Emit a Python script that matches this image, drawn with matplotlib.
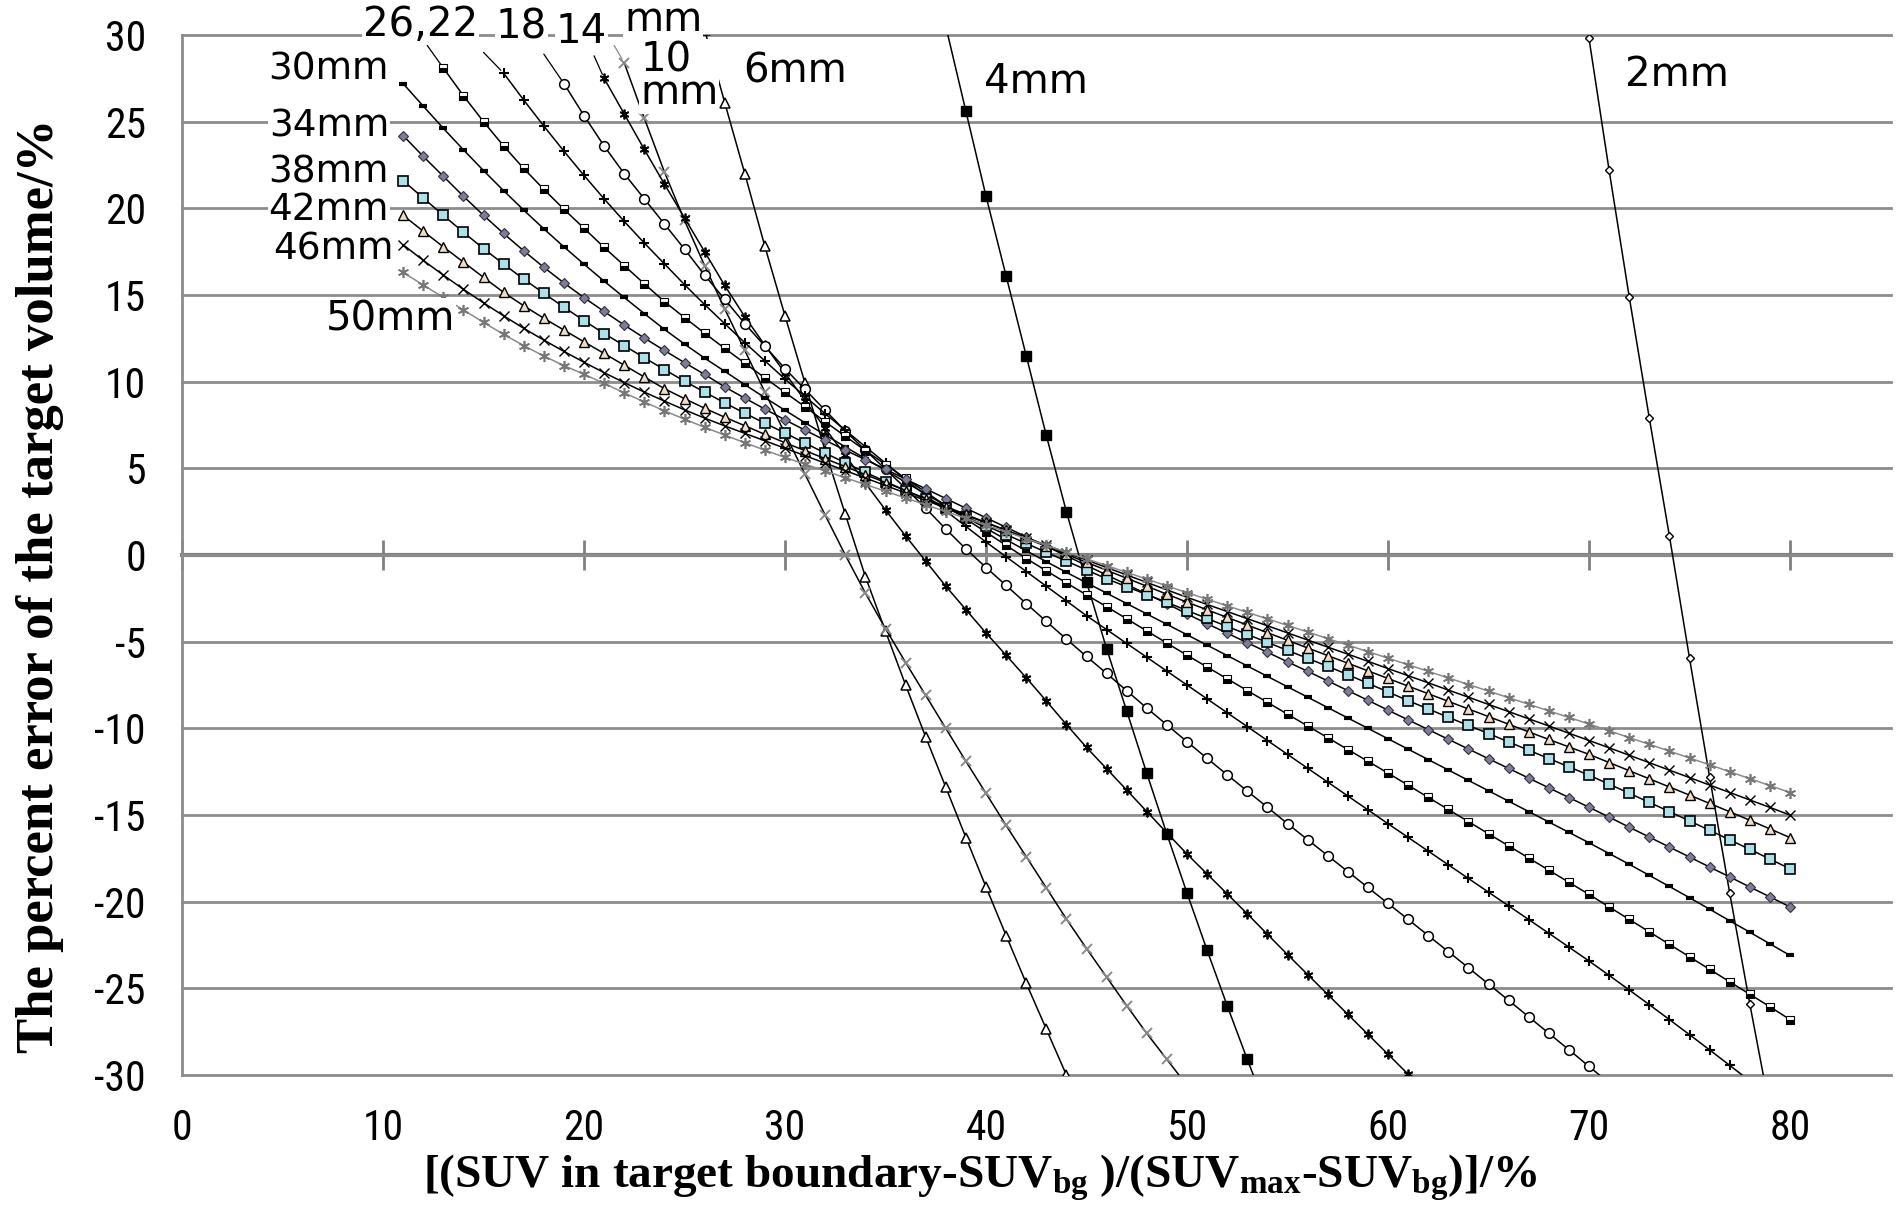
import numpy as np
import matplotlib
matplotlib.use("Agg")
import matplotlib.pyplot as plt
from matplotlib import font_manager

# percent error of the target volume, one value per integer threshold (%)
start_2mm = 70
err_2mm = [29.8, 22.2, 14.9, 7.9, 1.1, -5.95, -12.8, -19.5, -25.9, -32.0]

start_4mm = 38
err_4mm = [30.5, 25.6, 20.7, 16.1, 11.5, 6.9, 2.5, -1.55, -5.4, -9.0, -12.6, -16.1,
           -19.5, -22.8, -26.0, -29.1, -32.1]

start_6mm = 26
err_6mm = [30.3, 26.1, 22.0, 17.8, 13.8, 9.9, 6.0, 2.35, -1.25, -4.4, -7.5, -10.5,
           -13.4, -16.3, -19.15, -21.95, -24.7, -27.35, -30.0]

start_10mm = 22
err_10mm = [28.4, 25.2, 22.1, 19.3, 16.7, 14.2, 11.8, 9.4, 7.0, 4.65, 2.3, 0.0, -2.2,
            -4.25, -6.2, -8.1, -10.0, -11.9, -13.75, -15.6, -17.4, -19.2, -21.0, -22.7,
            -24.35, -26.0, -27.6, -29.1, -30.6]

start_14mm = 21
err_14mm = [27.5, 25.45, 23.4, 21.4, 19.45, 17.5, 15.55, 13.75, 12.1, 10.5, 8.9, 7.3,
            5.75, 4.15, 2.6, 1.1, -0.35, -1.8, -3.15, -4.5, -5.78, -7.08, -8.42, -9.78,
            -11.1, -12.33, -13.56, -14.8, -16.03, -17.25, -18.4, -19.55, -20.7, -21.88,
            -23.05, -24.2, -25.35, -26.5, -27.65, -28.8, -29.95, -31.1]

start_18mm = 19
err_18mm = [27.2, 25.35, 23.6, 22.0, 20.55, 19.1, 17.65, 16.15, 14.75, 13.35, 12.05,
            10.75, 9.55, 8.35, 7.15, 6.05, 4.95, 3.85, 2.7, 1.5, 0.35, -0.72, -1.75, -2.8,
            -3.83, -4.85, -5.85, -6.83, -7.83, -8.83, -9.8, -10.77, -11.73, -12.68, -13.62,
            -14.55, -15.5, -16.42, -17.34, -18.26, -19.18, -20.1, -21.02, -21.95, -22.88,
            -23.81, -24.75, -25.69, -26.64, -27.59, -28.54, -29.5, -30.46]

start_22mm = 16
err_22mm = [27.8, 26.25, 24.75, 23.3, 21.9, 20.55, 19.25, 18.0, 16.8, 15.6, 14.45, 13.35,
            12.25, 11.2, 10.15, 9.15, 8.15, 7.2, 6.25, 5.3, 4.35, 3.45, 2.55, 1.65, 0.75,
            -0.1, -0.95, -1.8, -2.65, -3.5, -4.3, -5.1, -5.9, -6.7, -7.5, -8.3, -9.1, -9.9,
            -10.7, -11.5, -12.3, -13.1, -13.9, -14.7, -15.5, -16.29, -17.08, -17.87,
            -18.66, -19.45, -20.24, -21.03, -21.82, -22.62, -23.42, -24.25, -25.09,
            -25.94, -26.8, -27.67, -28.55, -29.44, -30.34]

start_26mm = 13
err_26mm = [28.1, 26.5, 25.0, 23.6, 22.3, 21.1, 19.95, 18.85, 17.75, 16.7, 15.65, 14.62,
            13.7, 12.8, 11.92, 11.07, 10.22, 9.38, 8.55, 7.69, 6.85, 6.03, 5.22, 4.42,
            3.63, 2.85, 2.08, 1.32, 0.56, -0.2, -0.91, -1.61, -2.3, -2.98, -3.68, -4.38,
            -5.08, -5.78, -6.46, -7.14, -7.82, -8.5, -9.18, -9.86, -10.54, -11.22, -11.9,
            -12.58, -13.28, -13.98, -14.68, -15.38, -16.08, -16.78, -17.48, -18.18,
            -18.88, -19.58, -20.3, -21.02, -21.74, -22.46, -23.18, -23.9, -24.62, -25.34,
            -26.06, -26.8]

start_30mm = 11
err_30mm = [27.2, 25.9, 24.62, 23.38, 22.18, 21.02, 19.9, 18.82, 17.78, 16.78, 15.8,
            14.86, 13.93, 13.02, 12.17, 11.36, 10.6, 9.83, 9.08, 8.35, 7.63, 6.93, 6.24,
            5.56, 4.89, 4.2, 3.52, 2.85, 2.19, 1.54, 0.89, 0.25, -0.38, -1.0, -1.6, -2.2,
            -2.8, -3.4, -4.0, -4.6, -5.2, -5.8, -6.4, -7.0, -7.6, -8.2, -8.8, -9.4, -10.0,
            -10.6, -11.2, -11.8, -12.4, -13.0, -13.6, -14.2, -14.8, -15.4, -16.0, -16.6,
            -17.22, -17.84, -18.48, -19.12, -19.77, -20.43, -21.1, -21.76, -22.43, -23.1]

start_34mm = 11
err_34mm = [24.2, 23.0, 21.85, 20.7, 19.6, 18.55, 17.55, 16.6, 15.7, 14.85, 14.05, 13.27,
            12.52, 11.8, 11.1, 10.42, 9.7, 9.05, 8.42, 7.8, 7.2, 6.62, 6.05, 5.5, 4.95,
            4.38, 3.82, 3.26, 2.7, 2.15, 1.6, 1.05, 0.5, -0.05, -0.6, -1.15, -1.7, -2.25,
            -2.8, -3.4, -3.96, -4.51, -5.06, -5.61, -6.16, -6.71, -7.26, -7.82, -8.38,
            -8.95, -9.51, -10.07, -10.63, -11.19, -11.75, -12.31, -12.87, -13.43, -13.99,
            -14.55, -15.12, -15.7, -16.27, -16.85, -17.42, -18.0, -18.57, -19.15, -19.72,
            -20.3]

start_38mm = 11
err_38mm = [21.6, 20.6, 19.6, 18.62, 17.68, 16.78, 15.92, 15.1, 14.3, 13.52, 12.78,
            12.08, 11.38, 10.7, 10.03, 9.4, 8.78, 8.18, 7.6, 7.04, 6.46, 5.88, 5.32, 4.77,
            4.24, 3.72, 3.22, 2.71, 2.2, 1.69, 1.18, 0.67, 0.16, -0.35, -0.86, -1.37,
            -1.83, -2.28, -2.73, -3.2, -3.66, -4.12, -4.58, -5.04, -5.5, -5.96, -6.42,
            -6.9, -7.4, -7.9, -8.4, -8.88, -9.36, -9.83, -10.3, -10.78, -11.26, -11.74,
            -12.22, -12.7, -13.22, -13.74, -14.27, -14.8, -15.34, -15.88, -16.43, -16.98,
            -17.54, -18.1]

start_42mm = 11
err_42mm = [19.6, 18.68, 17.78, 16.9, 16.02, 15.15, 14.38, 13.66, 12.98, 12.3, 11.63,
            10.95, 10.27, 9.6, 9.02, 8.47, 7.95, 7.46, 6.96, 6.48, 6.02, 5.56, 5.1, 4.64,
            4.18, 3.72, 3.26, 2.8, 2.34, 1.88, 1.42, 0.96, 0.5, 0.04, -0.42, -0.88, -1.34,
            -1.8, -2.26, -2.72, -3.16, -3.6, -4.04, -4.48, -4.92, -5.36, -5.8, -6.24,
            -6.68, -7.12, -7.56, -8.0, -8.44, -8.88, -9.32, -9.76, -10.2, -10.64, -11.07,
            -11.5, -11.97, -12.44, -12.91, -13.38, -13.85, -14.33, -14.81, -15.3, -15.8,
            -16.3]

start_46mm = 11
err_46mm = [17.9, 17.0, 16.15, 15.33, 14.55, 13.8, 13.08, 12.4, 11.75, 11.12, 10.52,
            9.95, 9.4, 8.88, 8.38, 7.9, 7.45, 7.02, 6.59, 6.16, 5.73, 5.3, 4.87, 4.44,
            4.01, 3.58, 3.15, 2.72, 2.29, 1.86, 1.43, 1.0, 0.57, 0.14, -0.29, -0.72,
            -1.15, -1.58, -2.01, -2.44, -2.85, -3.26, -3.67, -4.08, -4.49, -4.9, -5.31,
            -5.72, -6.13, -6.55, -6.96, -7.37, -7.79, -8.2, -8.62, -9.03, -9.45, -9.86,
            -10.28, -10.7, -11.12, -11.55, -11.98, -12.41, -12.84, -13.27, -13.7, -14.13,
            -14.56, -15.0]

start_50mm = 11
err_50mm = [16.3, 15.58, 14.86, 14.14, 13.42, 12.73, 12.08, 11.48, 10.93, 10.43, 9.9,
            9.36, 8.83, 8.32, 7.84, 7.37, 6.92, 6.48, 6.05, 5.63, 5.24, 4.85, 4.46, 4.07,
            3.68, 3.29, 2.9, 2.51, 2.12, 1.73, 1.34, 0.95, 0.56, 0.17, -0.22, -0.61, -1.0,
            -1.39, -1.78, -2.17, -2.55, -2.93, -3.31, -3.68, -4.06, -4.44, -4.82, -5.2,
            -5.57, -5.95, -6.33, -6.71, -7.09, -7.47, -7.85, -8.23, -8.61, -8.99, -9.37,
            -9.75, -10.14, -10.53, -10.92, -11.31, -11.71, -12.1, -12.5, -12.9, -13.3,
            -13.7]

series = {
    "2mm": (start_2mm, err_2mm),
    "4mm": (start_4mm, err_4mm),
    "6mm": (start_6mm, err_6mm),
    "10mm": (start_10mm, err_10mm),
    "14mm": (start_14mm, err_14mm),
    "18mm": (start_18mm, err_18mm),
    "22mm": (start_22mm, err_22mm),
    "26mm": (start_26mm, err_26mm),
    "30mm": (start_30mm, err_30mm),
    "34mm": (start_34mm, err_34mm),
    "38mm": (start_38mm, err_38mm),
    "42mm": (start_42mm, err_42mm),
    "46mm": (start_46mm, err_46mm),
    "50mm": (start_50mm, err_50mm),
}

# marker looks of the Excel series
asterisk = (6, 2, 0)
styles = {
    "2mm": dict(marker="D", ms=4.5, mfc="white", mec="black", mew=1.0),
    "4mm": dict(marker="s", ms=7, mfc="black", mec="black", mew=1.0),
    "6mm": dict(marker="^", ms=7, mfc="white", mec="black", mew=1.1),
    "10mm": dict(marker="x", ms=7, mfc="none", mec="#8a8a8a", mew=1.4),
    "14mm": dict(marker=asterisk, ms=7, mfc="none", mec="black", mew=1.3),
    "18mm": dict(marker="o", ms=7, mfc="white", mec="black", mew=1.1),
    "22mm": dict(marker="+", ms=7, mfc="none", mec="black", mew=1.5),
    "26mm": dict(marker="s", ms=5.5, mfc="black", mec="black", mew=0.8,
                 fillstyle="bottom", markerfacecoloralt="white"),
    "30mm": dict(marker="_", ms=6, mfc="black", mec="black", mew=3),
    "34mm": dict(marker="D", ms=5, mfc="#7c7c9c", mec="#333333", mew=0.8),
    "38mm": dict(marker="s", ms=7, mfc="#aee0ea", mec="black", mew=1.2),
    "42mm": dict(marker="^", ms=6.5, mfc="#f3dcc4", mec="black", mew=1.0),
    "46mm": dict(marker="x", ms=7, mfc="none", mec="black", mew=1.0),
    "50mm": dict(marker=asterisk, ms=8, mfc="none", mec="#777777", mew=1.2),
}
line_colors = {"50mm": "#8a8a8a"}

# a narrow sans for the tick numbers, if one is installed
names = {f.name for f in font_manager.fontManager.ttflist}
tick_font = "Liberation Sans"
for cand in ["Liberation Sans Narrow", "DejaVu Sans Condensed", "Noto Sans Condensed",
             "Roboto Condensed", "Open Sans Condensed"]:
    if cand in names:
        tick_font = cand
        break

plt.rcParams["axes.unicode_minus"] = False
plt.rcParams["mathtext.fontset"] = "custom"
plt.rcParams["mathtext.rm"] = "Liberation Serif:bold"
plt.rcParams["mathtext.it"] = "Liberation Serif:bold"
plt.rcParams["mathtext.bf"] = "Liberation Serif:bold"

fig = plt.figure(figsize=(19, 12.12), dpi=100)
ax = fig.add_axes([0.0958, 0.1130, 0.8992, 0.8581])

for name, (x0, vals) in series.items():
    xs = np.arange(x0, x0 + len(vals))
    ax.plot(xs, vals, color=line_colors.get(name, "black"), lw=1.1, zorder=3,
            **styles[name])

ax.set_xlim(0, 85)
ax.set_ylim(-30, 30)
ax.set_xticks(np.arange(0, 81, 10))
ax.set_yticks(np.arange(-30, 31, 5))
ax.yaxis.grid(True, color="#8c8c8c", lw=2)
ax.set_axisbelow(True)
for gl in ax.get_ygridlines():
    gl.set_clip_on(False)

for side in ["top", "right", "bottom"]:
    ax.spines[side].set_visible(False)
ax.spines["left"].set_color("#8c8c8c")
ax.spines["left"].set_linewidth(2)

ax.tick_params(axis="x", length=0, pad=24, labelsize=30)
ax.tick_params(axis="y", length=0, pad=26, labelsize=30)
for lab in ax.get_xticklabels() + ax.get_yticklabels():
    lab.set_family(tick_font)

# the x axis line itself runs through y = 0 with crossing ticks
xaxis0 = ax.secondary_xaxis(0.5)
xaxis0.set_xticks(np.arange(0, 81, 10))
xaxis0.tick_params(direction="inout", length=22, width=2, color="#808080",
                   labeltop=False, labelbottom=False)
for side in ["top", "bottom"]:
    xaxis0.spines[side].set_color("#808080")
    xaxis0.spines[side].set_linewidth(3)

ax.set_ylabel("The percent error of the target volume/%", family="Liberation Serif",
              fontweight="bold", fontsize=38)
ax.yaxis.set_label_coords(-0.083, 0.47)
ax.yaxis.label.set_va("center")
ax.set_xlabel(r"[(SUV in target boundary-SUV$_{\mathrm{bg}}$ )/(SUV$_{\mathrm{max}}$-SUV$_{\mathrm{bg}}$)]/%",
              family="Liberation Serif", fontweight="bold", fontsize=34)
ax.xaxis.set_label_coords(0.467, -0.099)
ax.xaxis.label.set_va("center")

# data labels with white boxes, as Excel draws them
box = dict(boxstyle="square,pad=0.02", fc="white", ec="none")
label_kw = dict(fontsize=29, family="DejaVu Sans", va="center", zorder=6, bbox=box)
side_kw = dict(label_kw, fontsize=27)
ax.text(9.0, 30.6, "26,22", ha="left", **label_kw)
ax.text(15.6, 30.45, "18", ha="left", **label_kw)
ax.text(18.6, 30.15, "14", ha="left", **label_kw)
ax.text(22.0, 30.85, "mm", ha="left", **label_kw)
ax.text(22.8, 27.6, "10\nmm", ha="left", linespacing=0.78, **label_kw)
ax.text(27.9, 27.9, "6mm", ha="left", **label_kw)
ax.text(39.9, 27.3, "4mm", ha="left", **label_kw)
ax.text(71.8, 27.7, "2mm", ha="left", **label_kw)
ax.text(10.3, 28.0, "30mm", ha="right", **side_kw)
ax.text(10.3, 24.7, "34mm", ha="right", **side_kw)
ax.text(10.3, 22.05, "38mm", ha="right", **side_kw)
ax.text(10.3, 19.9, "42mm", ha="right", **side_kw)
ax.text(10.5, 17.6, "46mm", ha="right", **side_kw)
ax.text(13.6, 13.6, "50mm", ha="right", **label_kw)

# leader lines from the top labels to the first point of each series
leaders = [("26mm", (12.2, 29.4), "black"), ("22mm", (15.0, 29.0), "black"),
           ("18mm", (18.0, 28.9), "black"), ("14mm", (20.5, 28.8), "black"),
           ("10mm", (21.5, 29.4), "#8a8a8a")]
for name, xytext, col in leaders:
    x0, vals = series[name]
    ax.annotate("", xy=(x0, vals[0]), xytext=xytext,
                arrowprops=dict(arrowstyle="-", color=col, lw=0.9,
                                shrinkA=0, shrinkB=3))

fig.savefig("out.png", dpi=100)
